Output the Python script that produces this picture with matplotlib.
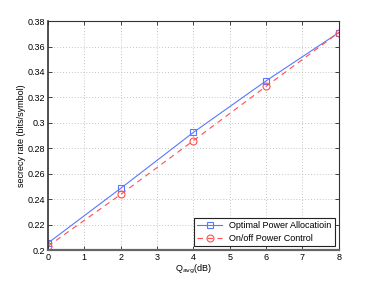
import matplotlib
matplotlib.use("Agg")
import matplotlib.pyplot as plt

q_avg = [0, 2, 4, 6, 8]
optimal = [0.2055, 0.2485, 0.2925, 0.3330, 0.3710]
onoff = [0.2030, 0.2437, 0.2860, 0.3287, 0.3710]
xticks = [0, 1, 2, 3, 4, 5, 6, 7, 8]
yticks = [0.2, 0.22, 0.24, 0.26, 0.28, 0.3, 0.32, 0.34, 0.36, 0.38]
ytick_labels = ["0.2", "0.22", "0.24", "0.26", "0.28", "0.3", "0.32", "0.34", "0.36", "0.38"]

plt.rcParams['font.family'] = ['Liberation Sans', 'DejaVu Sans']
fig = plt.figure(figsize=(3.74, 2.81), dpi=100)
ax = fig.add_axes([0.128, 0.110, 0.778, 0.815])

ax.plot(q_avg, optimal, '-', color='#5a78ff', lw=0.8, marker='s', ms=4.5,
        mfc='none', mec='#5a78ff', mew=0.8, label='Optimal Power Allocatioin')
ax.plot(q_avg, onoff, '--', color='#ff5050', lw=0.8, marker='o', ms=5,
        mfc='none', mec='#ff5050', mew=0.8, dashes=(5, 4), label='On/off Power Control')

ax.set_xlim(0, 8)
ax.set_ylim(0.2, 0.38)
ax.set_xticks(xticks)
ax.set_yticks(yticks)
ax.set_yticklabels(ytick_labels)
ax.tick_params(direction='in', top=True, right=True, labelsize=6.5, length=3, width=0.5, pad=2)
ax.grid(True, linestyle=(0, (1, 2.5)), color='#b0b0b0', lw=0.6)
for s in ax.spines.values():
    s.set_linewidth(0.8)
    s.set_color('#333333')
ax.spines['bottom'].set_linewidth(1.6)
ax.spines['bottom'].set_color('#666666')
ax.spines['left'].set_linewidth(1.2)

ax.set_xlabel(r'Q$_{\mathrm{avg}}$(dB)', fontsize=6.5, labelpad=1)
ax.set_ylabel('secrecy rate (bits/symbol)', fontsize=6.5, labelpad=1)

leg = ax.legend(loc='lower right', fontsize=6.5, frameon=True, fancybox=False,
                edgecolor='#222222', framealpha=1, borderpad=0.35, handlelength=2.8,
                labelspacing=0.45, borderaxespad=0.45)
leg.get_frame().set_linewidth(0.8)

fig.savefig('out.png', dpi=100)
